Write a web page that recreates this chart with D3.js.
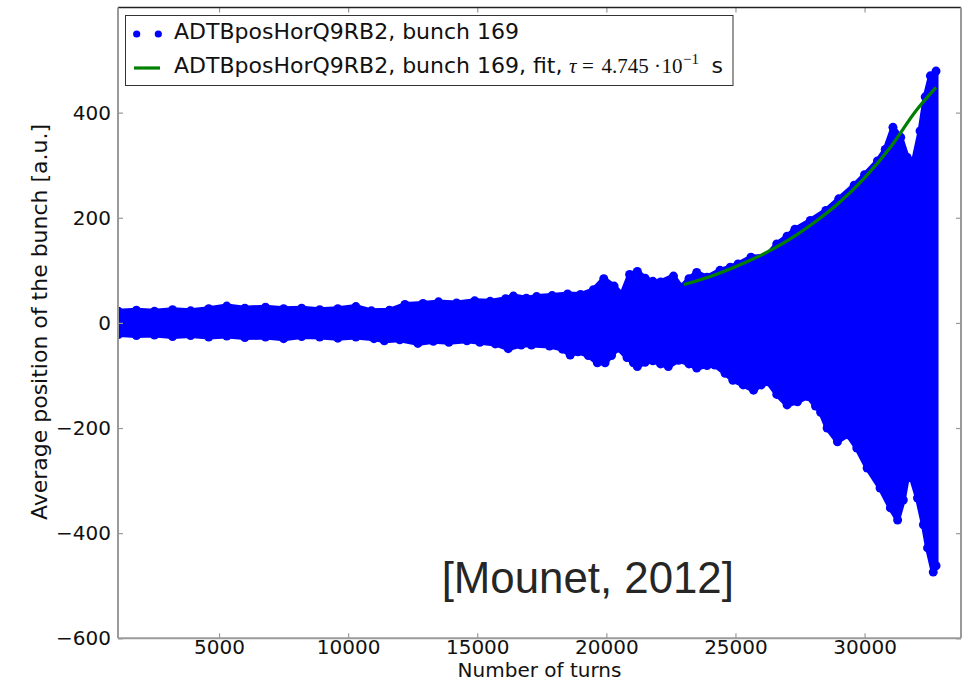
<!DOCTYPE html>
<html>
<head>
<meta charset="utf-8">
<script src="https://cdn.jsdelivr.net/npm/d3@7"></script>
<style>
  body { margin: 0; background: #fff; }
  svg { display: block; }
  text { font-family: "DejaVu Sans", sans-serif; }
</style>
</head>
<body>
<svg id="chart" width="972" height="682"></svg>
<script>
// Upper envelope of the measured bunch position (turn, a.u.)
const upperTurns = [1100, 1800, 2500, 3200, 3900, 4600, 5300, 6000, 6800, 7500, 8200, 8900, 9600, 10300, 10900,
  11600, 12200, 12900, 13500, 14200, 14900, 15500, 16100, 16400, 16900, 17300, 17900, 18500, 19000, 19500,
  19900, 20300, 20600, 20900, 21200, 21500, 21800, 22100, 22600, 22900, 23200, 23500, 23900, 24400, 24800,
  25100, 25600, 26200, 26600, 27000, 27300, 27900, 28500, 29000, 29600, 30000, 30500, 30800, 31100, 31400,
  31650, 31900, 32150, 32350, 32550, 32768];
const upperValues = [22, 24, 22, 25, 23, 27, 32, 28, 30, 27, 28, 25, 27, 31, 23,
  24, 35, 37, 40, 38, 42, 41, 46, 51, 47, 50, 52, 55, 54, 63,
  84, 70, 54, 92, 98, 85, 79, 78, 89, 68, 84, 96, 87, 100, 106,
  112, 125, 127, 150, 165, 178, 195, 214, 236, 262, 282, 308, 330, 372, 353,
  315, 308, 365, 430, 470, 479];

// Lower envelope of the measured bunch position (turn, a.u.)
const lowerTurns = [1100, 1800, 2500, 3200, 3900, 4600, 5300, 6000, 6800, 7500, 8200, 8900, 9600, 10300, 11000,
  11400, 12000, 12700, 13300, 13900, 14600, 15100, 15700, 16200, 16700, 17100, 17800, 18300, 18600, 18900,
  19300, 19650, 19950, 20200, 20450, 20800, 21050, 21200, 21500, 21800, 22100, 22400, 22800, 23200, 23500,
  23900, 24200, 24600, 24900, 25300, 25700, 26000, 26250, 26600, 27000, 27400, 27800, 28100, 28300, 28550,
  28950, 29350, 29700, 30100, 30600, 31000, 31280, 31500, 31650, 31780, 32050, 32280, 32440, 32660, 32768];
const lowerValues = [-22, -24, -23, -26, -24, -27, -25, -28, -27, -30, -26, -27, -29, -27, -30,
  -34, -32, -39, -35, -37, -34, -37, -40, -49, -42, -42, -44, -50, -61, -55,
  -62, -76, -76, -62, -48, -66, -76, -83, -75, -72, -78, -83, -71, -78, -86,
  -81, -80, -96, -109, -118, -128, -118, -112, -136, -156, -150, -140, -158, -170, -200,
  -226, -213, -238, -276, -314, -352, -375, -337, -295, -289, -333, -384, -428, -474, -462];

// Exponential fit of the growing oscillation
const fitTurns = [23000, 24000, 25000, 26000, 27000, 28000, 29000, 30000, 31000, 32000, 32768];
const fitValues = [73, 88, 107, 129, 156, 189, 228, 276, 334, 404, 448];

const xTicks = [5000, 10000, 15000, 20000, 25000, 30000];
const yTicks = [-600, -400, -200, 0, 200, 400];

const seriesName = "ADTBposHorQ9RB2, bunch 169";
const fitName = "ADTBposHorQ9RB2, bunch 169, fit, ";
const tauMantissa = "4.745";
const tauExponent = "\u22121";

const svg = d3.select("#chart");
const plot = { left: 118, right: 961, top: 7.5, bottom: 638.3 };

const x = d3.scaleLinear().domain([1087, 33735]).range([plot.left, plot.right]);
const y = d3.scaleLinear().domain([-600, 600]).range([plot.bottom, plot.top]);

svg.append("defs").append("clipPath").attr("id", "plotClip")
  .append("rect")
  .attr("x", plot.left).attr("y", plot.top)
  .attr("width", plot.right - plot.left).attr("height", plot.bottom - plot.top);

const blue = "#0000ff";
const green = "#008000";

// Scatter cloud: filled between the envelopes, with markers on the edge
const upperPts = upperTurns.map((t, i) => [t, upperValues[i]]);
const lowerPts = lowerTurns.map((t, i) => [t, lowerValues[i]]);
const outline = upperPts.concat(lowerPts.slice().reverse());

const cloud = svg.append("g").attr("clip-path", "url(#plotClip)");
const lineGen = d3.line().x(d => x(d[0])).y(d => y(d[1]));

cloud.append("path")
  .attr("d", lineGen(outline) + "Z")
  .attr("fill", blue)
  .attr("stroke", blue)
  .attr("stroke-width", 5)
  .attr("stroke-linejoin", "round");

cloud.selectAll("circle.pt")
  .data(upperPts.concat(lowerPts))
  .join("circle")
  .attr("class", "pt")
  .attr("cx", d => x(d[0]))
  .attr("cy", d => y(d[1]))
  .attr("r", 4.5)
  .attr("fill", blue);

// Fit curve
const fitPts = fitTurns.map((t, i) => [t, fitValues[i]]);
svg.append("path")
  .attr("d", d3.line().curve(d3.curveMonotoneX).x(d => x(d[0])).y(d => y(d[1]))(fitPts))
  .attr("fill", "none")
  .attr("stroke", green)
  .attr("stroke-width", 3.2);

// Axes with inward ticks
const tickColor = "#999";
const xAxisB = d3.axisBottom(x).tickValues(xTicks).tickFormat(d3.format("d")).tickSize(-5).tickPadding(1.5);
const xAxisT = d3.axisTop(x).tickValues(xTicks).tickFormat("").tickSize(-5);
const yAxisL = d3.axisLeft(y).tickValues(yTicks).tickFormat(d3.format("d")).tickSize(-5).tickPadding(7);
const yAxisR = d3.axisRight(y).tickValues(yTicks).tickFormat("").tickSize(-5);

function styleAxis(g) {
  g.select(".domain").remove();
  g.selectAll(".tick line").attr("stroke", tickColor).attr("stroke-width", 1.2);
  g.selectAll(".tick text")
    .attr("fill", "#111")
    .style("font-family", "'DejaVu Sans', sans-serif")
    .style("font-size", "20px");
}

svg.append("g").attr("transform", `translate(0,${plot.bottom})`).call(xAxisB).call(styleAxis);
svg.append("g").attr("transform", `translate(0,${plot.top})`).call(xAxisT).call(styleAxis);
svg.append("g").attr("transform", `translate(${plot.left},0)`).call(yAxisL).call(styleAxis);
svg.append("g").attr("transform", `translate(${plot.right},0)`).call(yAxisR).call(styleAxis);

// Frame
svg.append("line").attr("x1", plot.left).attr("x2", plot.right).attr("y1", plot.top).attr("y2", plot.top)
  .attr("stroke", "#222").attr("stroke-width", 1.5);
svg.append("line").attr("x1", plot.left).attr("x2", plot.right).attr("y1", plot.bottom).attr("y2", plot.bottom)
  .attr("stroke", "#9a9a9a").attr("stroke-width", 2);
svg.append("line").attr("x1", plot.left).attr("x2", plot.left).attr("y1", plot.top).attr("y2", plot.bottom)
  .attr("stroke", "#9a9a9a").attr("stroke-width", 2);
svg.append("line").attr("x1", plot.right).attr("x2", plot.right).attr("y1", plot.top).attr("y2", plot.bottom)
  .attr("stroke", "#9a9a9a").attr("stroke-width", 2);

// Axis titles
svg.append("text")
  .attr("x", (plot.left + plot.right) / 2).attr("y", 677.3)
  .attr("text-anchor", "middle")
  .style("font-size", "20px").attr("fill", "#111")
  .text("Number of turns");

svg.append("text")
  .attr("transform", "translate(46.5,322) rotate(-90)")
  .attr("text-anchor", "middle")
  .style("font-size", "22px").attr("fill", "#111")
  .text("Average position of the bunch [a.u.]");

// Legend
const legend = svg.append("g");
legend.append("rect")
  .attr("x", 125.5).attr("y", 15.5).attr("width", 607.5).attr("height", 70)
  .attr("fill", "#fff").attr("stroke", "#333").attr("stroke-width", 1);
legend.selectAll("circle").data([136.7, 158.3]).join("circle")
  .attr("cx", d => d).attr("cy", 34).attr("r", 3.6).attr("fill", blue);
legend.append("line")
  .attr("x1", 134).attr("x2", 160).attr("y1", 68).attr("y2", 68)
  .attr("stroke", green).attr("stroke-width", 3.2);
legend.append("text").attr("x", 174).attr("y", 38.7)
  .style("font-size", "22px").attr("fill", "#111").text(seriesName);

const fitText = legend.append("text").attr("y", 72.7).style("font-size", "22px").attr("fill", "#111");
fitText.append("tspan").attr("x", 174).text(fitName);
const serif = "'Liberation Serif', 'DejaVu Serif', serif";
fitText.append("tspan").attr("x", 569).style("font-family", serif).style("font-style", "italic")
  .style("font-size", "21px").text("\u03c4");
fitText.append("tspan").attr("x", 582).style("font-family", serif).style("font-size", "21px").text("=");
fitText.append("tspan").attr("x", 601.5).style("font-family", serif).style("font-size", "21px").text(tauMantissa);
fitText.append("tspan").attr("x", 654).style("font-family", serif).style("font-size", "21px").text("\u00b7");
fitText.append("tspan").attr("x", 661.5).style("font-family", serif).style("font-size", "21px").text("10");
fitText.append("tspan").attr("x", 683).attr("y", 64).style("font-family", serif).style("font-size", "15px").text(tauExponent);
fitText.append("tspan").attr("x", 711.5).attr("y", 72.7).text("s");

// Citation
svg.append("text")
  .attr("x", 441.7).attr("y", 593)
  .style("font-family", "'Liberation Sans', Arial, sans-serif")
  .style("font-size", "43.8px").attr("fill", "#262626")
  .text("[Mounet, 2012]");
</script>
</body>
</html>
